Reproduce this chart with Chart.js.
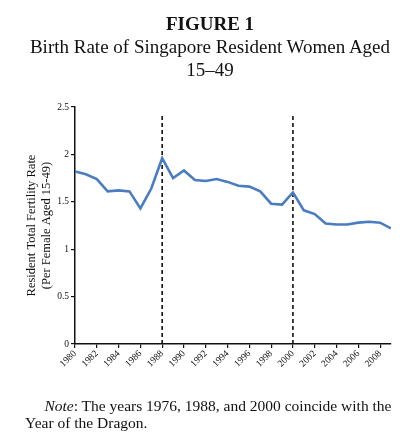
<!DOCTYPE html>
<html>
<head>
<meta charset="utf-8">
<script src="https://cdn.jsdelivr.net/npm/chart.js@4"></script>
<style>
  body { margin: 0; background: #fff; font-family: "Liberation Serif", "Times New Roman", serif; color: #111; }
  #wrap { position: relative; width: 420px; height: 444px; }
  #chart { position: absolute; left: 0; top: 0; }
  .title { position: absolute; left: 0; width: 420px; top: 12px; text-align: center; font-size: 19px; line-height: 23px; }
  .note { position: absolute; left: 25px; top: 397px; font-size: 15.5px; line-height: 17px; white-space: nowrap; }
</style>
</head>
<body>
<div id="wrap">
  <canvas id="chart" width="420" height="444"></canvas>
  <div class="title"><b>FIGURE 1</b><br>Birth Rate of Singapore Resident Women Aged<br>15–49</div>
  <div class="note">&nbsp;&nbsp;&nbsp;&nbsp;&nbsp;<i>Note</i>: The years 1976, 1988, and 2000 coincide with the<br>Year of the Dragon.</div>
</div>
<script>
document.addEventListener('DOMContentLoaded', function() {
    const years = [1980, 1981, 1982, 1983, 1984, 1985, 1986, 1987, 1988, 1989,
                   1990, 1991, 1992, 1993, 1994, 1995, 1996, 1997, 1998, 1999,
                   2000, 2001, 2002, 2003, 2004, 2005, 2006, 2007, 2008, 2009];
    const fertility = [1.82, 1.79, 1.74, 1.61, 1.62, 1.61, 1.43, 1.64, 1.96, 1.75,
                       1.83, 1.73, 1.72, 1.74, 1.71, 1.67, 1.66, 1.61, 1.48, 1.47,
                       1.60, 1.41, 1.37, 1.27, 1.26, 1.26, 1.28, 1.29, 1.28, 1.22];
    const dragonYears = [1988, 2000];
    const dragonTop = 2.42;
    const yTicks = [0, 0.5, 1, 1.5, 2, 2.5];

    const datasets = [{
        label: 'TFR',
        data: years.map((yr, i) => ({ x: yr, y: fertility[i] })),
        borderColor: '#4a7dbf',
        borderWidth: 2.6,
        pointRadius: 0,
        tension: 0,
        fill: false
    }];
    dragonYears.forEach(function(yr) {
        datasets.push({
            label: 'Dragon ' + yr,
            data: [{ x: yr, y: 0 }, { x: yr, y: dragonTop }],
            borderColor: '#111',
            borderWidth: 1.6,
            borderDash: [4, 3],
            pointRadius: 0,
            fill: false
        });
    });

    const tickFont = { family: '"Liberation Serif", serif', size: 9.5 };

    new Chart(document.getElementById('chart').getContext('2d'), {
        type: 'line',
        data: { datasets: datasets },
        options: {
            responsive: false,
            animation: false,
            layout: { padding: { top: 107, right: 29, bottom: 60, left: 0 } },
            plugins: { legend: { display: false }, tooltip: { enabled: false } },
            scales: {
                x: {
                    type: 'linear',
                    min: years[0],
                    max: years[years.length - 1],
                    afterBuildTicks: function(scale) {
                        scale.ticks = years.filter(y => y % 2 === 0).map(y => ({ value: y }));
                    },
                    afterFit: function(scale) { scale.height = 40; },
                    ticks: {
                        color: '#111',
                        font: tickFont,
                        maxRotation: 45,
                        minRotation: 45,
                        padding: 0,
                        autoSkip: false,
                        callback: v => String(v)
                    },
                    grid: { drawOnChartArea: false, tickLength: 4, color: '#111', lineWidth: 1.2 },
                    border: { color: '#111', width: 1.5 }
                },
                y: {
                    min: 0,
                    max: 2.5,
                    afterBuildTicks: function(scale) {
                        scale.ticks = yTicks.map(v => ({ value: v }));
                    },
                    afterFit: function(scale) { scale.width = 75; },
                    ticks: {
                        color: '#111',
                        font: tickFont,
                        padding: 2,
                        callback: v => String(v)
                    },
                    grid: { drawOnChartArea: false, tickLength: 4, color: '#111', lineWidth: 1.2 },
                    border: { color: '#111', width: 1.5 },
                    title: {
                        display: true,
                        text: ['Resident Total Fertility Rate', '(Per Female Aged 15-49)'],
                        color: '#111',
                        font: { family: '"Liberation Serif", serif', size: 12.5 },
                        padding: { top: 24, bottom: 0 }
                    }
                }
            }
        }
    });
});
</script>
</body>
</html>
